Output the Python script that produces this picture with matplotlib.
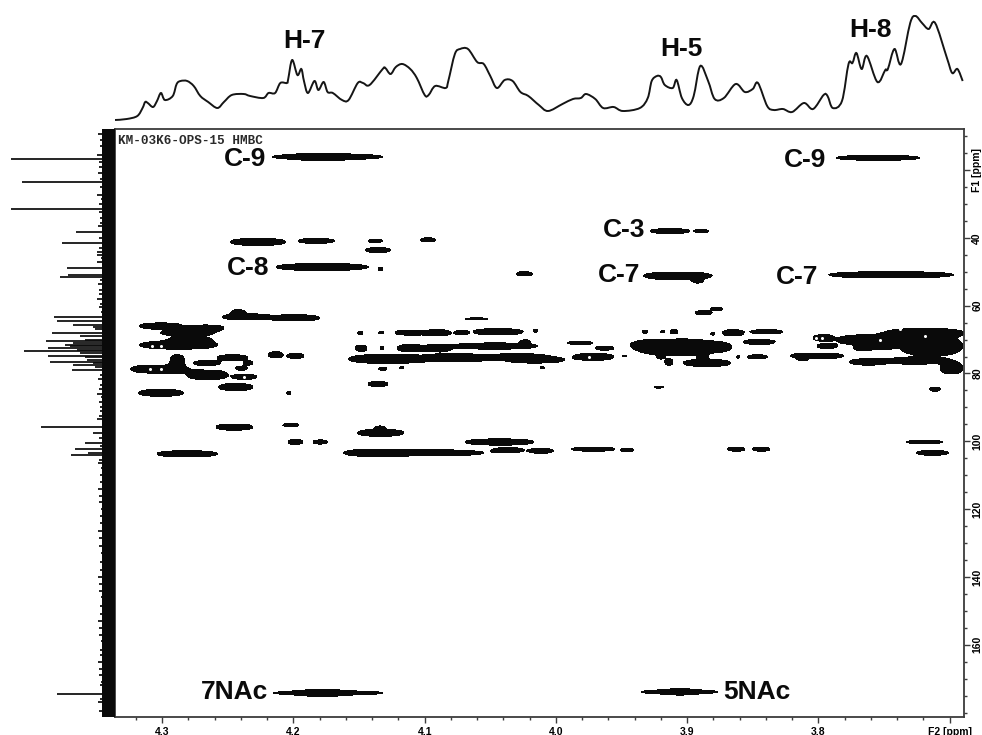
#!/usr/bin/env python3
"""HMBC spectrum of KM-03K6-OPS-15: contour map with 1H trace on top and 13C trace on the left."""

import matplotlib
matplotlib.use("Agg")
import matplotlib.pyplot as plt
import numpy as np
from matplotlib.patches import PathPatch
from matplotlib.path import Path

plt.rcParams["font.family"] = ["Liberation Sans", "DejaVu Sans"]

INK = "#0a0a0a"
FRAME = "#3c3c3c"

# 1H projection (top): shift in ppm, intensity in arbitrary units
H_PPM = [
    4.336, 4.327, 4.319, 4.315, 4.313, 4.311, 4.307, 4.304, 4.301, 4.298, 4.292, 4.289, 4.286, 4.281, 4.276,
    4.271, 4.265, 4.258, 4.253, 4.247, 4.238, 4.233, 4.223, 4.219, 4.214, 4.210, 4.205, 4.204, 4.201, 4.197,
    4.194, 4.192, 4.189, 4.184, 4.181, 4.177, 4.174, 4.170, 4.163, 4.158, 4.151, 4.147, 4.142, 4.132, 4.130,
    4.126, 4.122, 4.117, 4.111, 4.106, 4.100, 4.097, 4.092, 4.084, 4.082, 4.077, 4.073, 4.067, 4.060, 4.055,
    4.050, 4.045, 4.039, 4.033, 4.027, 4.021, 4.013,
    4.006, 3.995, 3.987, 3.981, 3.977, 3.970, 3.964, 3.956, 3.949, 3.936, 3.930, 3.927, 3.923, 3.920, 3.917,
    3.911, 3.908, 3.904, 3.899, 3.895, 3.890, 3.884, 3.879, 3.872, 3.863, 3.856, 3.850, 3.846, 3.839, 3.834,
    3.827, 3.820, 3.811, 3.804, 3.796, 3.793, 3.789, 3.782, 3.777, 3.774, 3.771, 3.767, 3.763, 3.755, 3.749,
    3.747, 3.742, 3.737, 3.730, 3.726, 3.721, 3.716, 3.711, 3.702, 3.698, 3.694, 3.690,
]
H_INT = [
    9, 10, 13, 21, 27, 26, 22, 28, 36, 29, 33, 45, 48, 48, 43,
    33, 27, 21, 27, 34, 35, 33, 31, 36, 36, 46, 46, 50, 69, 54,
    60, 48, 36, 48, 39, 47, 37, 36, 29, 29, 46, 46, 44, 60, 61,
    55, 62, 65, 60, 51, 34, 34, 43, 41, 48, 75, 80, 80, 67, 65,
    53, 41, 49, 48, 37, 33, 24,
    18, 25, 30, 31, 35, 30, 21, 22, 18, 21, 31, 48, 53, 52, 44,
    41, 49, 31, 24, 33, 63, 48, 30, 31, 45, 37, 40, 46, 23, 19,
    20, 17, 26, 20, 34, 33, 21, 28, 65, 66, 76, 60, 73, 47, 59,
    60, 80, 65, 106, 113, 106, 100, 106, 71, 56, 60, 48,
]

# 13C projection (left): shift in ppm, peak height
C_PPM = [
    16.7, 23.5, 31.5, 38.2, 41.5, 44.1, 45.0, 48.9, 50.9, 51.5,
    63.3, 64.5, 65.7, 68.0, 70.4, 72.5, 73.4, 74.9, 76.6, 77.5, 79.0,
    95.9, 97.6, 100.5, 102.3, 103.4, 104.0, 174.5,
    66.3, 67.0, 69.0, 70.0, 71.0, 71.5, 72.0, 73.0, 74.0, 75.0, 76.0, 77.0, 78.0,
    9.5, 13.0, 15.5, 19.0, 21.0, 25.0, 27.5, 30.0, 34.0, 36.5, 40.0, 47.0, 53.5, 55.5, 58.0, 60.5,
    81.5, 83.5, 86.0, 88.5, 91.0, 93.5, 99.0, 106.5, 110.0, 114.0, 118.0, 122.0, 126.5, 131.0, 135.5,
    140.0, 144.0, 148.5, 153.0, 157.0, 161.5, 165.0, 169.0, 172.0, 177.0, 179.5,
    11.0, 17.5, 22.5, 28.5, 32.5, 35.5, 43.0, 46.0, 52.5, 56.5, 59.5, 62.0, 80.5, 84.5, 87.0, 90.0, 92.5,
    101.5, 105.5, 108.0, 112.0, 116.0, 120.0, 124.0, 128.5, 133.0, 138.0, 142.0, 146.0, 151.0, 155.0, 159.0,
    163.0, 167.0, 171.0, 176.0,
]
C_HEIGHT = [
    104, 93, 104, 39, 53, 18, 18, 48, 47, 55,
    61, 58, 42, 63, 69, 67, 91, 67, 65, 42, 43,
    74, 22, 30, 40, 27, 44, 58,
    22, 20, 35, 30, 42, 50, 45, 38, 35, 30, 28, 22, 20,
    17, 15, 18, 16, 17, 15, 18, 16, 15, 17, 16, 18, 17, 16, 18, 16,
    17, 15, 18, 16, 15, 18, 16, 17, 15, 17, 16, 15, 17, 16, 15,
    17, 16, 15, 17, 16, 15, 17, 16, 15, 17, 16,
    15, 16, 15, 14, 16, 15, 16, 14, 15, 16, 15, 14, 15, 16, 14, 15, 16,
    15, 16, 14, 15, 16, 14, 15, 16, 14, 15, 16, 14, 15, 16, 14,
    15, 16, 14, 15,
]

# cross peaks: F2 range (ppm), F1 centre (ppm), F1 half-height (ppm)
F2_START = [
    4.216, 4.195, 3.786, 4.248, 4.196, 4.143, 4.103, 4.145, 4.213, 4.135,
    3.928, 3.894, 3.933, 3.896, 3.792, 4.030, 4.254, 4.247, 4.218, 3.894,
    3.882, 4.317, 4.281, 4.301, 4.294, 4.317, 4.324, 4.281, 4.294, 4.276,
    4.258, 4.238, 4.244, 4.246, 4.257, 4.318, 4.219, 4.205, 4.205, 4.259,
    4.208, 4.204, 4.185, 4.304, 4.159, 4.151, 4.138, 4.151, 4.135, 4.122,
    4.153, 4.134, 4.135, 4.143, 4.120, 4.101, 4.077, 4.063, 4.069, 4.017,
    4.121, 4.101, 4.079, 4.027, 4.158, 4.098, 4.052, 4.036, 3.991, 3.970,
    3.987, 4.119, 4.012, 4.149, 4.069, 4.048, 4.021, 3.988, 3.950, 3.949,
    3.925, 3.934, 3.920, 3.913, 3.943, 3.933, 3.923, 3.917, 3.903, 3.905,
    3.882, 3.873, 3.852, 3.857, 3.892, 3.862, 3.854, 3.821, 3.816, 3.804,
    3.801, 3.804, 3.786, 3.773, 3.760, 3.776, 3.753, 3.748, 3.738, 3.707,
    3.715, 3.733, 3.725, 3.869, 3.850, 4.215, 4.195, 3.935, 3.917,
]
F2_END = [
    4.132, 4.161, 3.723, 4.206, 4.169, 4.132, 4.092, 4.126, 4.143, 4.132,
    3.898, 3.884, 3.881, 3.888, 3.697, 4.018, 4.219, 4.237, 4.180, 3.881,
    3.873, 4.285, 4.253, 4.261, 4.263, 4.258, 4.281, 4.250, 4.283, 4.256,
    4.235, 4.231, 4.235, 4.228, 4.231, 4.284, 4.208, 4.192, 4.202, 4.231,
    4.196, 4.193, 4.174, 4.258, 4.119, 4.116, 4.130, 4.147, 4.131, 4.118,
    4.144, 4.131, 4.129, 4.128, 4.101, 4.080, 4.067, 4.025, 4.052, 4.014,
    4.101, 4.080, 4.014, 4.020, 4.098, 4.052, 4.007, 3.994, 3.972, 3.956,
    3.956, 4.116, 4.009, 4.055, 4.017, 4.025, 4.002, 3.955, 3.941, 3.946,
    3.918, 3.930, 3.917, 3.907, 3.890, 3.890, 3.917, 3.911, 3.867, 3.866,
    3.879, 3.857, 3.827, 3.833, 3.884, 3.860, 3.839, 3.801, 3.808, 3.781,
    3.786, 3.789, 3.737, 3.758, 3.743, 3.750, 3.703, 3.690, 3.690, 3.690,
    3.707, 3.705, 3.701, 3.856, 3.837, 4.132, 4.161, 3.877, 3.894,
]
F1_CENTRE = [
    16.1, 16.1, 16.4, 41.2, 40.9, 40.9, 40.6, 43.6, 48.6, 49.2,
    38.0, 38.0, 51.2, 52.4, 50.9, 50.6, 63.3, 62.1, 63.6, 62.1,
    61.0, 66.0, 66.6, 68.0, 70.1, 71.6, 78.7, 80.4, 76.5, 76.9,
    75.4, 76.9, 78.4, 81.0, 84.0, 85.7, 74.5, 74.8, 85.7, 95.8,
    95.2, 100.2, 100.2, 103.7, 103.4, 97.5, 96.4, 68.0, 68.0, 68.0,
    72.5, 72.5, 78.6, 83.1, 68.0, 68.0, 68.0, 67.7, 63.9, 67.4,
    72.5, 72.5, 71.9, 70.7, 75.7, 75.4, 75.1, 76.0, 71.0, 72.5,
    75.1, 78.3, 78.3, 103.4, 100.2, 102.6, 102.8, 102.3, 102.6, 74.8,
    84.0, 67.7, 67.7, 67.7, 71.6, 73.0, 75.1, 76.6, 76.9, 72.2,
    68.3, 68.0, 67.7, 70.7, 75.4, 75.1, 75.1, 74.8, 75.4, 74.8,
    71.9, 69.5, 70.1, 72.5, 72.2, 76.6, 76.3, 68.0, 71.9, 78.4,
    84.6, 100.2, 103.4, 102.3, 102.3, 174.2, 174.2, 173.9, 173.9,
]
F1_HALF = [
    0.8, 0.9, 0.7, 1.0, 0.7, 0.45, 0.6, 0.7, 1.0, 0.45,
    0.7, 0.45, 1.1, 0.9, 0.9, 0.6, 0.9, 0.9, 0.9, 0.6,
    0.5, 0.9, 0.9, 0.9, 0.9, 1.2, 1.2, 1.4, 2.0, 0.7,
    0.9, 0.6, 0.6, 0.7, 1.0, 1.0, 0.9, 0.7, 0.45, 0.9,
    0.45, 0.7, 0.6, 0.9, 0.9, 1.0, 0.9, 0.45, 0.35, 0.45,
    0.9, 0.45, 0.45, 0.7, 0.7, 0.9, 0.6, 0.9, 0.3, 0.45,
    1.0, 1.0, 0.9, 0.6, 1.3, 1.2, 0.9, 0.9, 0.45, 0.6,
    1.0, 0.3, 0.35, 0.9, 0.9, 0.7, 0.7, 0.6, 0.5, 0.2,
    0.3, 0.45, 0.35, 0.6, 1.7, 1.5, 0.6, 0.9, 1.0, 1.7,
    0.35, 0.9, 0.6, 0.7, 1.2, 0.35, 0.6, 0.7, 0.9, 0.7,
    0.7, 0.9, 1.5, 0.7, 0.6, 0.9, 0.9, 1.2, 2.8, 1.7,
    0.6, 0.45, 0.7, 0.6, 0.6, 0.6, 0.9, 0.6, 0.8,
]

# small gaps inside the contour blobs
HOLE_F2 = [4.308, 4.301, 4.309, 4.301, 4.238, 4.068, 3.975, 3.802, 3.797, 3.753, 3.738, 3.719, 3.703]
HOLE_F1 = [71.9, 71.9, 78.7, 78.7, 81.0, 69.5, 75.1, 69.5, 69.5, 70.0, 67.0, 69.0, 66.0]

PEAK_LABELS = ["C-9", "C-9", "C-8", "C-3", "C-7", "C-7", "7NAc", "5NAc"]
PEAK_LABEL_F2 = [4.221, 3.794, 4.218, 3.932, 3.936, 3.800, 4.219, 3.821]
PEAK_LABEL_F1 = [16.7, 16.9, 48.9, 37.6, 50.9, 51.5, 173.9, 173.9]

PROTON_LABELS = ["H-7", "H-5", "H-8"]
PROTON_LABEL_F2 = [4.192, 3.904, 3.760]
PROTON_LABEL_INT = [88, 80, 99]

F2_TICKS = [4.3, 4.2, 4.1, 4.0, 3.9, 3.8, 3.7]
F2_TICK_LABELS = ["4.3", "4.2", "4.1", "4.0", "3.9", "3.8", "F2 [ppm]"]
F1_TICKS = [20, 40, 60, 80, 100, 120, 140, 160]
F1_TICK_LABELS = ["F1 [ppm]", "40", "60", "80", "100", "120", "140", "160"]

F2_LIM = (4.336, 3.689)
F1_LIM = (181.3, 7.9)


def contour_field(f2, f1):
    """Sum of blunt elliptical peaks; the e^-1 level falls on each peak's outline."""
    z = np.zeros((f1.size, f2.size))
    for a, b, c, h in zip(F2_START, F2_END, F1_CENTRE, F1_HALF):
        dx = np.exp(-np.abs((f2 - (a + b) / 2) / ((a - b) / 2)) ** 3)
        dy = np.exp(-((f1 - c) / h) ** 2)
        z += np.outer(dy, dx)
    return z


def smooth_path(xs, ys):
    """Catmull-Rom curve through the read points, as cubic Bezier segments."""
    p = np.column_stack([xs, ys]).astype(float)
    p = np.vstack([p[0], p, p[-1]])
    verts = [p[1]]
    codes = [Path.MOVETO]
    for i in range(1, len(p) - 2):
        verts += [p[i] + (p[i + 1] - p[i - 1]) / 6, p[i + 1] - (p[i + 2] - p[i]) / 6, p[i + 1]]
        codes += [Path.CURVE4] * 3
    return Path(verts, codes)


def main():
    W, H = 982, 735
    fig = plt.figure(figsize=(W / 100, H / 100), dpi=100, facecolor="white")

    left, right, top, bottom = 115, 964, 129, 717
    ax = fig.add_axes([left / W, 1 - bottom / H, (right - left) / W, (bottom - top) / H])
    ax_top = fig.add_axes([left / W, 1 - top / H, (right - left) / W, top / H])
    ax_left = fig.add_axes([0, 1 - bottom / H, left / W, (bottom - top) / H])

    # contour map
    f2 = np.linspace(F2_LIM[1], F2_LIM[0], 2000)
    f1 = np.linspace(F1_LIM[1], F1_LIM[0], 2400)
    ax.contourf(f2, f1, contour_field(f2, f1), levels=[np.exp(-1), 1e3], colors=INK)
    ax.plot(HOLE_F2, HOLE_F1, ls="none", marker="o", ms=2.2, mfc="white", mew=0)
    ax.set_xlim(F2_LIM)
    ax.set_ylim(F1_LIM)

    ax.yaxis.tick_right()
    ax.set_xticks(F2_TICKS, F2_TICK_LABELS, fontsize=7.5, fontweight="bold")
    ax.set_yticks(F1_TICKS, F1_TICK_LABELS, fontsize=7.5, fontweight="bold", rotation=90, va="center")
    ax.set_xticks(np.arange(3.70, 4.34, 0.02), minor=True)
    ax.set_yticks(np.arange(10, 181, 5), minor=True)
    ax.tick_params(which="major", length=4, width=1, color=FRAME, pad=3)
    ax.tick_params(axis="y", which="major", pad=2)
    ax.tick_params(which="minor", length=2.5, width=1, color=FRAME)
    for spine in ax.spines.values():
        spine.set_color(FRAME)
        spine.set_linewidth(1.3)

    ax.text(0.004, 0.979, "KM-03K6-OPS-15 HMBC", transform=ax.transAxes, family="Liberation Mono",
            fontsize=9.1, fontweight="bold", color="#2a2a2a", va="center")
    for label, x, y in zip(PEAK_LABELS, PEAK_LABEL_F2, PEAK_LABEL_F1):
        ax.text(x, y, label, ha="right", va="center", fontsize=19, fontweight="bold", color=INK)

    # 1H trace
    ax_top.add_patch(PathPatch(smooth_path(H_PPM, H_INT), fill=False, ec="#151515", lw=1.4))
    for label, x, y in zip(PROTON_LABELS, PROTON_LABEL_F2, PROTON_LABEL_INT):
        ax_top.text(x, y, label, ha="center", va="center", fontsize=19, fontweight="bold", color=INK)
    ax_top.set_xlim(F2_LIM)
    ax_top.set_ylim(0, top)
    ax_top.axis("off")

    # 13C trace with its noise band
    ax_left.fill_betweenx(F1_LIM, 0, 13, color=INK, lw=0)
    ax_left.hlines(C_PPM, 0, C_HEIGHT, color=INK, lw=1.25)
    ax_left.set_xlim(left, 0)
    ax_left.set_ylim(F1_LIM)
    ax_left.axis("off")

    fig.savefig("out.png", dpi=100, facecolor="white")
    plt.close(fig)


if __name__ == "__main__":
    main()
